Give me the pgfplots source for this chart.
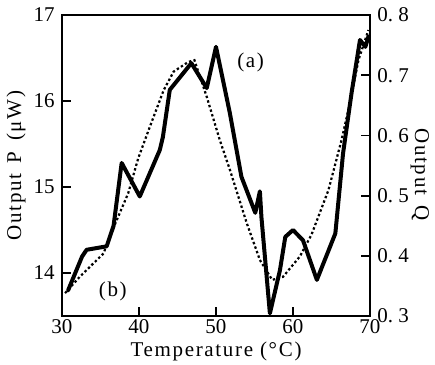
\documentclass[border=0pt]{standalone}
\usepackage{fontspec}
\setmainfont{Liberation Serif}
\newfontfamily\labfont[LetterSpace=8]{Liberation Serif}
\usepackage{pgfplots}
\pgfplotsset{compat=1.18}
\begin{document}
\fontsize{10.5}{12}\selectfont
\begin{tikzpicture}
\pgfplotsset{
  common/.style={
    scale only axis, width=154pt, height=150.5pt,
    at={(0,0)}, anchor=south west,
    xmin=30, xmax=70,
    tick align=inside,
    major tick length=4.5pt,
    tick style={line width=0.9pt, black},
    axis line style={line width=1.1pt},
    /pgf/number format/assume math mode=true,
    tick label style={font=\fontsize{10.5}{12}\selectfont},
    label style={font=\labfont\fontsize{10.5}{12}\selectfont},
  }
}
\begin{axis}[common,
  ymin=13.5, ymax=17,
  xtick={30,40,50,60,70}, ytick={14,15,16,17},
  xtick pos=bottom, ytick pos=left,
  xticklabel style={inner sep=1.5pt},
  xlabel={Temperature (°C)},
  ylabel={Output\enspace P\enspace(μW)},
  xlabel style={at={(axis description cs:0.5,-0.118)}, anchor=center, inner sep=0pt},
  ylabel style={at={(axis description cs:-0.149,0.5)}, anchor=center},
]
\addplot[black, line width=2pt, line join=round, line cap=round] coordinates {
(30.8,13.80) (32.6,14.19) (33.2,14.27) (35.8,14.31) (36.7,14.55)
(37.75,15.28) (40.1,14.89) (42.7,15.43) (43.1,15.58) (44.0,16.13)
(46.8,16.44) (48.8,16.15) (50.0,16.63) (51.8,15.86) (53.3,15.12)
(55.1,14.70) (55.7,14.95) (55.9,14.65) (57.0,13.53) (58.3,14.03)
(59.0,14.42) (60.0,14.50) (61.3,14.38) (63.1,13.92) (65.5,14.46)
(66.5,15.39) (67.6,16.09) (68.7,16.71) (69.4,16.63) (69.8,16.75)
};
\node[font=\labfont\fontsize{10.5}{12}\selectfont] at (axis cs:54.5,16.45) {(a)};
\node[font=\labfont\fontsize{10.5}{12}\selectfont] at (axis cs:36.6,13.78) {(b)};
\end{axis}
\begin{axis}[common,
  ymin=0.3, ymax=0.8,
  axis x line=none, axis y line*=right,
  ytick={0.3,0.4,0.5,0.6,0.7,0.8},
  yticklabels={0.~3,0.~4,0.~5,0.~6,0.~7,0.~8},
  ylabel={Output\enspace Q},
  ylabel style={at={(axis description cs:1.162,0.47)}, anchor=center, rotate=180, inner sep=0pt},
]
\addplot[black, line width=1.1pt, dash pattern=on 1.2pt off 1.2pt] coordinates {
(30.4,0.338) (32.3,0.365) (35.4,0.404) (36.2,0.432) (37.1,0.459)
(38.6,0.504) (39.9,0.562) (41.4,0.614) (43.2,0.675) (44.5,0.706)
(46.4,0.722) (47.2,0.725) (48.8,0.664) (50.5,0.592) (51.8,0.543)
(54.0,0.454) (55.7,0.393) (57.3,0.360) (58.7,0.365) (60.9,0.399)
(62.4,0.435) (64.6,0.509) (66.3,0.592) (67.4,0.654) (68.5,0.725)
(69.8,0.775)
};
\end{axis}
\pgfresetboundingbox
\path (-31pt,-24.5pt) rectangle (186.5pt,158pt);
\end{tikzpicture}
\end{document}
